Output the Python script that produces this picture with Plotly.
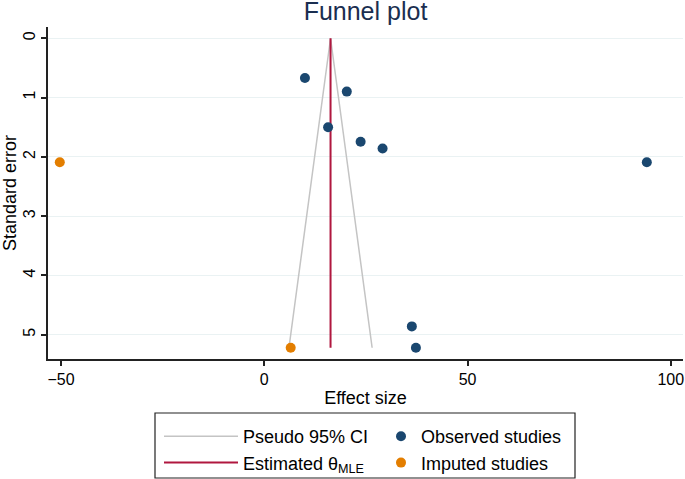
import plotly.graph_objects as go

# ---- data ----
observed_es = [10.0, 20.3, 15.7, 23.7, 29.1, 94.1, 36.3, 37.3]
observed_se = [0.67, 0.90, 1.50, 1.745, 1.86, 2.09, 4.86, 5.22]
imputed_es = [-50.3, 6.5]
imputed_se = [2.09, 5.22]
theta_mle = 16.3
se_max = 5.22
x_ticks = [-50, 0, 50, 100]
y_ticks = [0, 1, 2, 3, 4, 5]

FONT = "Liberation Sans, Arial, sans-serif"
NAVY = "#1a476f"
ORANGE = "#e37e00"
RED = "#b0173f"
GRAY = "#c4c4c4"

ci_x = [theta_mle - 1.96 * se_max, theta_mle, theta_mle + 1.96 * se_max]
ci_y = [se_max, 0, se_max]

fig = go.Figure()
fig.add_trace(go.Scatter(x=ci_x, y=ci_y, mode="lines", name="Pseudo 95% CI",
                         line=dict(color=GRAY, width=1.5), legend="legend"))
fig.add_trace(go.Scatter(x=[theta_mle, theta_mle], y=[0, se_max], mode="lines",
                         name="Estimated θ<sub>MLE</sub>",
                         line=dict(color=RED, width=2), legend="legend"))
fig.add_trace(go.Scatter(x=observed_es, y=observed_se, mode="markers",
                         name="Observed studies",
                         marker=dict(color=NAVY, size=10), legend="legend2"))
fig.add_trace(go.Scatter(x=imputed_es, y=imputed_se, mode="markers",
                         name="Imputed studies",
                         marker=dict(color=ORANGE, size=10), legend="legend2"))

L, R, T, B = 48, 2, 27, 120
W, H = 685, 479
pw, ph = W - L - R, H - T - B

def px(p):
    return (p - L) / pw

def py(p):
    return (H - B - p) / ph

legend_common = dict(bgcolor="rgba(0,0,0,0)", borderwidth=0,
                     font=dict(family=FONT, size=18, color="black"),
                     orientation="v", yanchor="top", xanchor="left",
                     tracegroupgap=0)

fig.update_layout(
    width=W, height=H,
    margin=dict(l=L, r=R, t=T, b=B, autoexpand=False),
    paper_bgcolor="white", plot_bgcolor="white",
    font=dict(family=FONT, size=16, color="black"),
    title=dict(text="Funnel plot", x=0.5, xref="paper", xanchor="center",
               y=1 - 2 / H, yanchor="top", yref="container", pad=dict(t=0, b=0),
               font=dict(family=FONT, size=25, color="#1a2e50")),
    xaxis=dict(range=[-53.2, 103.0], tickvals=x_ticks, showgrid=False,
               zeroline=False, showline=True, linecolor="#222", linewidth=1.5,
               ticks="outside", ticklen=5, tickcolor="#222", tickwidth=1.5,
               tickfont=dict(size=16), automargin=False,
               title=dict(text="Effect size", font=dict(size=18), standoff=4)),
    yaxis=dict(range=[5.41, -0.19], tickvals=y_ticks, showgrid=True,
               gridcolor="#eaf2f3", gridwidth=1.2, zeroline=False,
               showline=True, linecolor="#222", linewidth=1.5,
               ticks="outside", ticklen=5, tickcolor="#222", tickwidth=1.5,
               tickangle=-90, tickfont=dict(size=16), automargin=False,
               title=dict(text="Standard error", font=dict(size=18), standoff=4)),
    legend=dict(x=px(159), y=py(418), itemwidth=74, **legend_common),
    legend2=dict(x=px(381), y=py(418), itemwidth=30, **legend_common),
    shapes=[dict(type="rect", xref="paper", yref="paper",
                 x0=px(155), x1=px(575), y0=py(478), y1=py(413),
                 line=dict(color="#222", width=1.2), fillcolor="rgba(0,0,0,0)")],
)

fig.write_html("out.html", config={"displayModeBar": False},
               post_script="document.body.style.margin='0';"
                           "document.documentElement.style.overflow='hidden';")
